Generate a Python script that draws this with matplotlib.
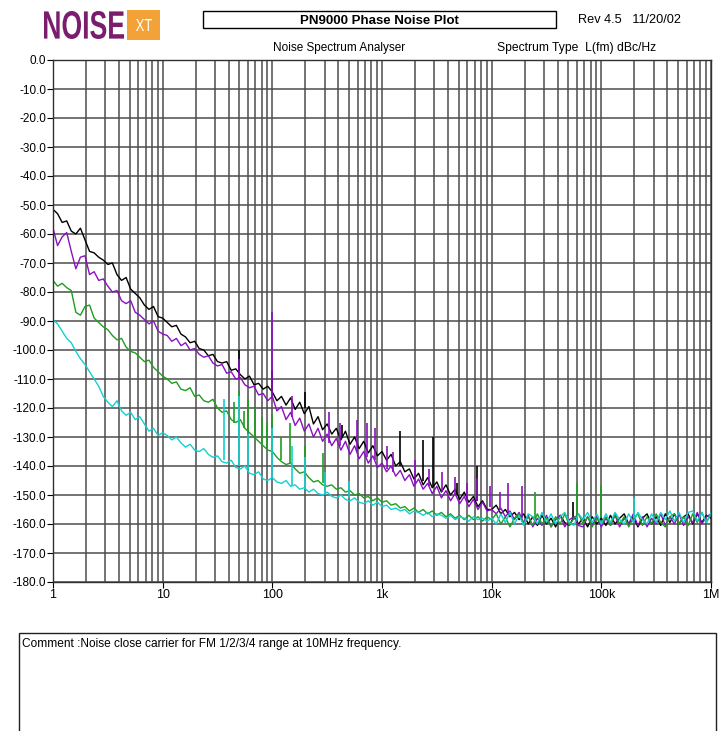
import numpy as np
import matplotlib
matplotlib.use("Agg")
import matplotlib.pyplot as plt
from matplotlib.patches import Rectangle, PathPatch
from matplotlib.textpath import TextPath
from matplotlib.font_manager import FontProperties
from matplotlib.transforms import Affine2D

# Offset frequency grid (Hz), 24 samples per decade from 1 Hz to 1 MHz
freq = 10 ** (np.arange(145) / 24)

# L(fm) in dBc/Hz, one list per trace
black = [
    -51.5, -53, -56, -55.5, -59, -60, -58, -62, -66, -66.5, -68, -69, -70.5, -70, -74, -76, -75, -79, -80.5, -82, -84.5, -86, -85, -88.5,
    -89, -90.5, -92, -91.5, -94.5, -95.5, -97.5, -97, -99.5, -100, -102, -101.5, -104, -104.5, -104, -107, -106.5, -108.5, -110, -109, -112, -111.5, -113.5, -112.5,
    -114.5, -117.5, -116, -119, -116.5, -120.5, -118, -122, -119.5, -125.5, -123, -127.5, -125.5, -129, -127, -131, -128, -132.5, -130, -134, -131.5, -135.5, -133, -136.5,
    -135, -138, -136, -140, -138.5, -142, -141, -144.5, -142.5, -146.5, -144, -147.5, -145.5, -149, -146.5, -150, -148, -151.5, -149, -152.5, -150.5, -154, -152, -155,
    -155, -153.5, -156.5, -155, -157.5, -156, -158.5, -156.5, -160, -157.5, -160.5, -157, -160, -158, -161, -157, -159.5, -160.5, -157.5, -160, -158, -161, -157.5, -160,
    -158, -160.5, -157, -160, -158, -156.5, -160, -157.5, -161, -158, -156.5, -160, -157.5, -160.5, -156.5, -159.5, -156.5, -160, -157.5, -156.5, -160, -156.5, -159.5, -157, -158,
]
purple = [
    -58, -64, -61, -59.5, -66, -72, -68, -67.5, -74, -73, -76, -75.5, -78, -80, -79.5, -83, -84, -83, -87, -88, -89.5, -91, -90, -93.5,
    -94.5, -95, -97, -96, -98.5, -97.5, -100, -99.5, -101.5, -102.5, -102, -104.5, -105.5, -105, -108, -107.5, -110, -109.5, -112, -113, -112.5, -115.5, -115, -117.5,
    -116, -121, -119.5, -124, -121.5, -126, -123.5, -128, -125.5, -130, -127, -131.5, -129, -133, -130.5, -134.5, -131.5, -136, -133, -137.5, -135, -139, -136.5, -140.5,
    -139, -142, -140, -143.5, -141.5, -145, -143, -147, -144.5, -148, -146, -149.5, -147, -151, -148.5, -152, -149.5, -153, -150.5, -154, -151.5, -155, -152.5, -155.5,
    -155, -156.5, -154.5, -157.5, -155.5, -158.5, -156, -159.5, -157, -161, -158, -160.5, -157, -161, -158.5, -157, -161, -158.5, -157.5, -160.5, -161, -157.5, -160.5, -157.5,
    -161, -158, -160.5, -157, -161, -158, -160, -156.5, -160.5, -157.5, -161, -158, -160, -156.5, -160.5, -157.5, -160, -156.5, -160.5, -157.5, -159.5, -156, -160, -157.5, -156.5,
]
green = [
    -76, -78, -77, -78.5, -79.5, -87, -88, -85, -84.5, -89, -90.5, -92, -93, -95, -96.5, -96, -99, -100.5, -101, -102.5, -104, -103.5, -106, -107.5,
    -109, -110, -111.5, -111, -113.5, -114, -113, -116, -115.5, -117.5, -118, -117, -120, -121.5, -121, -124, -125, -124, -127, -128.5, -130, -131.5, -133, -134.5,
    -135, -137, -138.5, -139.5, -139, -141, -142.5, -142, -144, -145.5, -145, -146.5, -147, -146.5, -148, -147.5, -149, -148.5, -150, -149.5, -151, -150.5, -152, -151,
    -152.5, -152, -153.5, -153, -154.5, -154, -155.5, -154.5, -156, -155, -156.5, -155.5, -157, -156, -157.5, -156.5, -158, -157, -158.5, -157, -158.5, -157.5, -159, -157.5,
    -158.5, -156.5, -160, -157.5, -161, -158, -156.5, -160, -157.5, -160.5, -156.5, -160, -158, -161, -157.5, -160, -156.5, -160.5, -158, -156.5, -160, -157.5, -161, -158,
    -160, -157.5, -160.5, -156.5, -160, -157.5, -161, -158, -156.5, -160.5, -157.5, -160, -156.5, -159.5, -161, -157.5, -156.5, -160, -157.5, -160.5, -156.5, -159.5, -156, -159.5, -156.5,
]
cyan = [
    -89.5, -91, -93.5, -96, -97.5, -100.5, -103, -105, -107.5, -110, -112.5, -116, -118, -119.5, -117.5, -121, -122.5, -121.5, -124, -123, -125.5, -128, -127, -129.5,
    -128.5, -129.5, -131, -130, -132, -133.5, -132.5, -134.5, -135, -134, -136, -137, -136.5, -138.5, -139, -138, -140.5, -141, -140, -142.5, -143, -142, -144.5, -145,
    -144, -145.5, -146, -145, -147, -146.5, -148, -147.5, -149, -148, -149.5, -150, -149, -150.5, -151, -150, -151.5, -152, -151, -152.5, -153, -152, -153.5, -152.5,
    -154, -153.5, -155, -154.5, -155.5, -155, -156.5, -155.5, -156, -157, -156, -157.5, -156.5, -157, -158, -157, -158.5, -157.5, -158, -159, -157.5, -158.5, -158, -159,
    -158, -160, -156.5, -159.5, -156, -160, -157, -160.5, -156.5, -157.5, -160, -156, -159.5, -156.5, -160, -157.5, -156, -159.5, -160.5, -156.5, -158.5, -156, -159.5, -156.5,
    -160, -156.5, -159.5, -156, -158.5, -160, -156.5, -159.5, -156, -158.5, -160, -156.5, -159.5, -156, -158.5, -155.5, -159, -156, -159.5, -156, -155.5, -159, -156, -159.5, -156,
]

# Discrete spurs: (frequency Hz, trace level under the spur, peak level) in dBc/Hz
black_spurs = [(50, -108, -100), (100, -114, -107), (200, -120, -114.5), (430, -130, -126),
               (1450, -140, -128), (2350, -145, -131), (2900, -147, -130), (4800, -150, -146),
               (7300, -152, -140), (55000, -158, -152.5)]
purple_spurs = [(50, -110, -103), (100, -117, -87), (150, -123, -116), (330, -132, -121.5),
                (415, -133, -125), (590, -135, -124), (730, -137, -125), (860, -138, -127),
                (1100, -141, -133), (1250, -142, -135), (2000, -146, -138), (2700, -147, -141),
                (3500, -149, -142), (4600, -150, -143.7), (6000, -152, -146), (7300, -152, -144),
                (9600, -154, -147), (12000, -155, -149), (14000, -156, -146), (19000, -158, -147)]
green_spurs = [(45, -125, -118), (50, -126, -114), (55, -127, -121), (60, -128, -117),
               (70, -130, -120), (80, -132, -123), (90, -134, -125), (100, -135, -122),
               (120, -138, -130), (145, -139, -125), (200, -142, -133), (290, -146, -135.5),
               (25000, -158, -149), (60000, -158, -146), (100000, -158, -146.5), (200000, -158, -152)]
cyan_spurs = [(36, -138, -117), (50, -140, -116), (60, -141, -129), (100, -144, -127),
              (150, -147, -133), (200, -148, -137), (300, -150, -142), (500, -151, -145),
              (200000, -158, -151)]

y_ticks = list(range(0, -190, -10))
x_ticks = [1, 10, 100, 1e3, 1e4, 1e5, 1e6]
x_labels = ["1", "10", "100", "1k", "10k", "100k", "1M"]

FONT = "Liberation Sans"
W, H = 724, 731


def px(x, y):
    return x / W, 1 - y / H


def boxed_text(fig, s, x0, y0, x1, y1, color, weight="bold"):
    # text path stretched into the pixel box (x0, y0)-(x1, y1)
    tp = TextPath((0, 0), s, size=1, prop=FontProperties(family=FONT, weight=weight))
    ext = tp.get_extents()
    tr = (Affine2D().translate(-ext.x0, -ext.y0)
          .scale((x1 - x0) / W / ext.width, (y1 - y0) / H / ext.height)
          .translate(x0 / W, 1 - y1 / H) + fig.transFigure)
    fig.patches.append(PathPatch(tp, transform=tr, facecolor=color, edgecolor="none"))


fig = plt.figure(figsize=(W / 100, H / 100), dpi=100)
ax = fig.add_axes([53 / W, 1 - 582 / H, 658 / W, 522 / H])

for vals, spurs, col in [(black, black_spurs, "#000000"),
                         (purple, purple_spurs, "#8c0fc4"),
                         (green, green_spurs, "#1e9e1e"),
                         (cyan, cyan_spurs, "#14cfd2")]:
    ax.plot(freq, vals, color=col, lw=1.0)
    ax.vlines([s[0] for s in spurs], [s[1] for s in spurs], [s[2] for s in spurs],
              color=col, lw=1.2)

ax.set_xscale("log")
ax.set_xlim(1, 1e6)
ax.set_ylim(-180, 0)
ax.set_yticks(y_ticks)
ax.set_yticklabels(["%.1f" % t for t in y_ticks], family=FONT, fontsize=8.5)
ax.set_xticks(x_ticks)
ax.set_xticklabels(x_labels, family=FONT, fontsize=9)
ax.tick_params(which="major", direction="out", length=4, width=0.8, pad=1)
ax.tick_params(which="minor", length=0)
ax.grid(which="both", color="#4d4d4d", lw=1.1)
ax.set_axisbelow(True)
for s in ax.spines.values():
    s.set_color("#303030")
    s.set_linewidth(1.0)

# header
boxed_text(fig, "NOISE", 44, 11, 124, 39, "#7a1d6e")
fig.patches.append(Rectangle(px(127, 40), 33 / W, 30 / H, transform=fig.transFigure,
                             facecolor="#f2a236", edgecolor="none"))
boxed_text(fig, "XT", 136, 19, 152, 31, "white", weight="normal")
fig.patches.append(Rectangle(px(203, 28), 353 / W, 17 / H, transform=fig.transFigure,
                             fill=False, edgecolor="black", lw=1))
fig.text(*px(379, 20.5), "PN9000 Phase Noise Plot", fontsize=9.5, fontweight="bold",
         family=FONT, ha="center", va="center")
fig.text(*px(578, 20), "Rev 4.5   11/20/02", fontsize=9.2, family=FONT, va="center")
fig.text(*px(339, 47.5), "Noise Spectrum Analyser", fontsize=8.5, family=FONT,
         ha="center", va="center")
fig.text(*px(497, 47.5), "Spectrum Type  L(fm) dBc/Hz", fontsize=8.7, family=FONT,
         va="center")

# comment box
fig.patches.append(Rectangle(px(19, 740), 697 / W, 107 / H, transform=fig.transFigure,
                             fill=False, edgecolor="#202020", lw=1, clip_on=False))
fig.text(*px(22, 643.5), "Comment :Noise close carrier for FM 1/2/3/4 range at 10MHz frequency.",
         fontsize=8.6, family=FONT, va="center")

fig.savefig("out.png", dpi=100)
